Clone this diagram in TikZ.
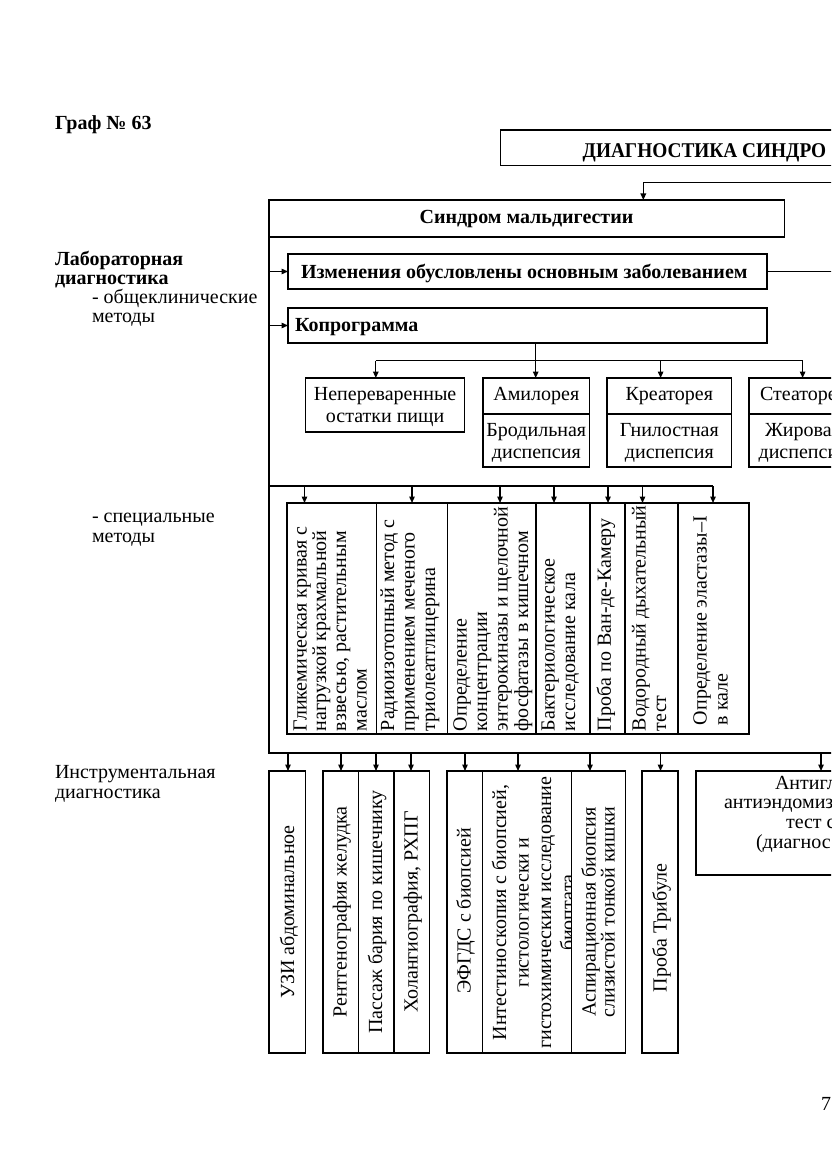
\documentclass[tikz,border=0pt]{standalone}
\usepackage{fontspec}
\setmainfont{Liberation Serif}
\usetikzlibrary{arrows.meta,fit}
\newcommand\fsz{\fontsize{20}{22}\selectfont}
\newcommand\fbig{\fontsize{21}{23}\selectfont}
\begin{document}
\begin{tikzpicture}[x=1pt,y=-1pt,
  line width=1.3pt,
  arr/.style={-{Triangle[length=6.5pt,width=5.5pt]}},
  bx/.style={draw,line width=1.3pt,rectangle,inner sep=0pt,outer sep=0pt},
  tx/.style={inner sep=0pt,outer sep=0pt,font=\fsz},
  tb/.style={tx,font=\fsz\bfseries},
  rt/.style={tx,rotate=90,anchor=base west},
  ct/.style={tx,rotate=90,anchor=base},
]
\useasboundingbox (0,0) rectangle (831,1174);
\clip (0,0) rectangle (831,1174);

% left labels
\node[tb,anchor=base west] (graf) at (55,129.3) {Граф № 63};
\node[tb,anchor=base west] (lab1) at (55,265.5) {Лабораторная};
\node[tb,anchor=base west] (lab2) at (55,284.5) {диагностика};
\node[tx,anchor=base west] (lab3) at (92,303.5) {- общеклинические};
\node[tx,anchor=base west] (lab4) at (92,322.5) {методы};
\node[tx,anchor=base west] (lab5) at (92,522.5) {- специальные};
\node[tx,anchor=base west] (lab6) at (92,542) {методы};
\node[tx,anchor=base west] (ins1) at (55,778) {Инструментальная};
\node[tx,anchor=base west] (ins2) at (55,798) {диагностика};
\node[tx,anchor=base west] (pnum) at (821,1110) {7};

% top box
\node[bx,fit={(500.5,130)(900,165.5)}] (top) {};
\node[tx,anchor=base west] (topt) at (582.7,157.5) {\scalebox{0.92}[1]{\fbig\bfseries ДИАГНОСТИКА СИНДРО}};
\coordinate (tr) at (900,182.7);
\coordinate (tk) at (643.3,182.7);

% syndrome box
\node[bx,fit={(269,200)(784.5,237)}] (synd) {};
\node[tb,anchor=base] (syndt) at (526.5,223.5) {Синдром мальдигестии};
\draw[arr] (tr) -- (tk) -- (tk |- synd.north);

% frame
\coordinate (fb) at (269,753);
\coordinate (fr) at (900,753);
\draw (synd.south west) -- (fb) -- (fr);

% Izmeneniya
\node[bx,fit={(288,254)(767,289)}] (izm) {};
\node[tb,anchor=base west] (izmt) at (301,278) {Изменения обусловлены основным заболеванием};
\coordinate (rI) at (900,271.5);
\draw (izm.east) -- (rI);
\draw[arr] (izm.west -| synd.west) -- (izm.west);

% Koprogramma
\node[bx,fit={(288,308)(767,343)}] (copro) {};
\node[tb,anchor=base west] (coprot) at (295,331.5) {Копрограмма};
\draw[arr] (copro.west -| synd.west) -- (copro.west);

% copro results
\node[bx,fit={(305.5,378)(464.7,432)}] (nep) {};
\node[tx,anchor=base] (nept1) at (385.1,400) {Непереваренные};
\node[tx,anchor=base] (nept2) at (385.1,422.5) {остатки пищи};

\node[bx,fit={(483,378)(589.6,414)}] (amil) {};
\node[bx,fit={(483,414)(589.6,467)}] (amil2) {};
\node[tx,anchor=base] (amilt) at (536.3,400) {Амилорея};
\node[tx,anchor=base] (amilt2) at (536.3,436.5) {Бродильная};
\node[tx,anchor=base] (amilt3) at (536.3,458.5) {диспепсия};

\node[bx,fit={(607,378)(731.6,414)}] (krea) {};
\node[bx,fit={(607,414)(731.6,467)}] (krea2) {};
\node[tx,anchor=base] (kreat) at (669.3,400) {Креаторея};
\node[tx,anchor=base] (kreat2) at (669.3,436.5) {Гнилостная};
\node[tx,anchor=base] (kreat3) at (669.3,458.5) {диспепсия};

\node[bx,fit={(749,378)(857,414)}] (stea) {};
\node[bx,fit={(749,414)(857,467)}] (stea2) {};
\node[tx,anchor=base] (steat) at (803,400) {Стеаторея};
\node[tx,anchor=base] (steat2) at (803,436.5) {Жировая};
\node[tx,anchor=base] (steat3) at (803,458.5) {диспепсия};

\coordinate (cb) at (535.7,360.7);
\coordinate (bL) at (375.8,360.7);
\coordinate (bK) at (660.6,360.7);
\coordinate (bR) at (802.6,360.7);
\draw (copro.south -| cb) -- (cb);
\draw (bL) -- (bR);
\draw[arr] (bL) -- (bL |- nep.north);
\draw[arr] (cb) -- (cb |- amil.north);
\draw[arr] (bK) -- (bK |- krea.north);
\draw[arr] (bR) -- (bR |- stea.north);

% special methods
\node[bx,fit={(287,503)(376.5,734)}] (s1) {};
\node[bx,fit={(376.5,503)(447.5,734)}] (s2) {};
\node[bx,fit={(447.5,503)(536,734)}] (s3) {};
\node[bx,fit={(536,503)(590,734)}] (s4) {};
\node[bx,fit={(590,503)(625,734)}] (s5) {};
\node[bx,fit={(625,503)(678,734)}] (s6) {};
\node[bx,fit={(678,503)(749,734)}] (s7) {};

\node[rt] (s1a) at (306.5,731) {Гликемическая кривая с};
\node[rt] (s1b) at (326,731) {нагрузкой крахмальной};
\node[rt] (s1c) at (346,731) {взвесью, растительным};
\node[rt] (s1d) at (366.5,731) {маслом};
\node[rt] (s2a) at (394,731) {Радиоизотопный метод с};
\node[rt] (s2b) at (414.5,731) {применением меченого};
\node[rt] (s2c) at (435,731) {триолеатглицерина};
\node[rt] (s3a) at (466.5,731) {Определение};
\node[rt] (s3b) at (487,731) {концентрации};
\node[rt] (s3c) at (507.5,731) {энтерокиназы и щелочной};
\node[rt] (s3d) at (528,731) {фосфатазы в кишечном};
\node[rt] (s4a) at (554.5,731) {Бактериологическое};
\node[rt] (s4b) at (575,731) {исследование кала};
\node[rt] (s5a) at (610.8,731) {Проба по Ван-де-Камеру};
\node[rt] (s6a) at (645.5,731) {Водородный дыхательный};
\node[rt] (s6b) at (666,731) {тест};
\node[rt] (s7a) at (706.5,725) {Определение эластазы–I};
\node[rt] (s7b) at (727.5,725) {в кале};

\coordinate (sL) at (269,486);
\coordinate (sR) at (713,486);
\draw (sL) -- (sR);
\foreach \xx/\nn in {304.5/s1,412/s2,500/s3,554/s4,608/s5,642.5/s6,713/s7}{
  \coordinate (q\nn) at (\xx,486);
  \draw[arr] (q\nn) -- (q\nn |- \nn.north);
}

% instrumental
\node[bx,fit={(269,771)(305.5,1053)}] (i1) {};
\node[bx,fit={(323,771)(358.3,1053)}] (i2) {};
\node[bx,fit={(358.3,771)(394,1053)}] (i3) {};
\node[bx,fit={(394,771)(429.3,1053)}] (i4) {};
\node[bx,fit={(447,771)(482.4,1053)}] (i5) {};
\node[bx,fit={(482.4,771)(571.5,1053)}] (i6) {};
\node[bx,fit={(571.5,771)(625.3,1053)}] (i7) {};
\node[bx,fit={(642,771)(678,1053)}] (i8) {};
\node[bx,fit={(696,771)(950,875)}] (i9) {};

\node[ct] (i1a) at (294,912) {УЗИ абдоминальное};
\node[ct] (i2a) at (346.5,912) {Рентгенография желудка};
\node[ct] (i3a) at (382,912) {Пассаж бария по кишечнику};
\node[ct] (i4a) at (417.5,912) {Холангиография, РХПГ};
\node[ct] (i5a) at (470.5,911) {ЭФГДС с биопсией};
\begin{scope}
\clip (482.4,771) rectangle (571.5,1053);
\node[ct] (i6a) at (506,912.5) {Интестиноскопия с биопсией,};
\node[ct] (i6b) at (528.5,912.5) {гистологически и};
\node[ct] (i6c) at (551,912.5) {гистохимическим исследование};
\node[ct] (i6d) at (574,912.5) {биоптата};
\end{scope}
\node[ct] (i7a) at (595.5,912) {Аспирационная биопсия};
\node[ct] (i7b) at (614.5,912) {слизистой тонкой кишки};
\node[ct] (i8a) at (666.5,928) {Проба Трибуле};
\node[tx,anchor=base west] (i9a) at (775,789) {Антигл};
\node[tx,anchor=base west] (i9b) at (724,808.5) {антиэндомиз};
\node[tx,anchor=base west] (i9c) at (786,828.5) {тест с};
\node[tx,anchor=base west] (i9d) at (756,848) {(диагнос};

\foreach \xx/\nn in {288/i1,341/i2,376/i3,411/i4,465/i5,518/i6,590/i7,660.5/i8,821/i9}{
  \coordinate (p\nn) at (\xx,753);
  \draw[arr] (p\nn) -- (p\nn |- \nn.north);
}
\end{tikzpicture}
\end{document}
